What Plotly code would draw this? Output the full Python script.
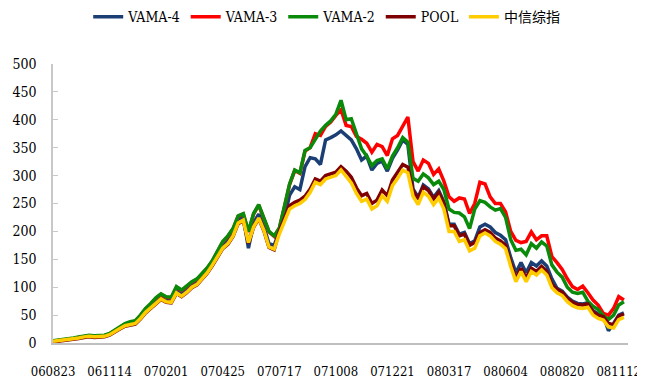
import plotly.graph_objects as go

# x positions are sample indices (roughly weekly); tick labels are the dates shown
tick_idx = [0, 11, 22, 33, 44, 55, 66, 77, 88, 99, 110]
tick_labels = ["060823", "061114", "070201", "070425", "070717", "071008",
               "071221", "080317", "080604", "080820", "081112"]

zx = [3,4,5,6,7,9,11,12,11,12,
      12,15,21,26,31,33,35,44,55,63,
      72,79,74,73,90,84,91,100,105,116,
      126,140,155,170,178,192,215,220,180,208,
      224,202,172,168,195,218,240,246,250,257,
      270,288,284,294,297,300,310,298,287,268,
      254,258,240,246,264,254,282,295,310,305,
      263,248,270,263,248,260,240,200,200,182,
      185,165,170,192,197,192,182,177,169,137,
      110,128,110,128,122,131,122,99,90,85,
      74,67,63,62,64,50,44,41,29,27,
      42,46]

pool = [2,3,4,5,6,8,10,11,10,11,
        11,14,20,25,30,32,34,43,54,62,
        71,78,73,72,89,83,90,99,104,115,
        125,139,154,169,177,191,214,219,179,207,
        223,201,171,167,200,224,246,252,256,263,
        276,294,290,300,303,306,316,308,297,278,
        264,268,250,256,274,264,292,305,320,315,
        273,258,280,273,258,270,250,210,210,192,
        195,175,180,198,203,198,188,183,175,143,
        116,134,116,134,128,137,128,105,96,91,
        80,73,69,68,70,56,50,47,35,33,
        48,52]

vama4 = [3,4,5,6,7,9,11,12,11,12,
         13,16,22,27,32,34,36,46,57,65,
         75,82,77,76,94,88,95,104,109,120,
         131,146,161,177,185,200,222,226,170,215,
         231,208,178,175,200,225,265,280,275,316,
         332,330,320,364,368,373,380,372,364,348,
         328,335,310,322,326,308,331,346,364,356,
         276,261,283,276,261,273,253,213,213,195,
         198,178,183,208,213,208,198,193,185,153,
         126,144,126,144,138,147,138,115,98,93,
         82,75,71,70,72,58,52,49,22,35,
         50,54]

vama2 = [4,5,6,8,9,11,13,14,13,14,
         14,17,23,29,35,38,40,50,62,71,
         81,88,83,82,101,95,103,110,115,124,
         135,148,165,182,192,205,228,232,200,232,
         248,225,200,192,206,245,285,310,305,345,
         350,365,380,390,398,410,435,400,402,375,
         348,335,318,327,330,312,335,350,368,360,
         295,290,303,296,284,290,275,240,234,233,
         226,205,240,255,252,244,238,241,225,185,
         166,168,158,178,170,181,174,140,127,118,
         100,91,89,91,75,66,60,49,42,50,
         68,74]

vama3 = [3,4,5,7,8,10,12,13,12,13,
         13,16,22,28,34,37,39,49,61,70,
         80,87,82,81,100,94,102,109,114,123,
         134,147,164,181,191,204,227,231,199,231,
         247,224,199,191,205,244,284,309,304,344,
         350,375,372,388,396,408,418,390,388,370,
         365,358,342,356,352,336,366,372,390,405,
         325,308,328,322,302,312,290,262,254,260,
         258,232,250,288,285,262,250,250,235,200,
         184,180,182,199,185,192,192,155,144,132,
         115,101,96,102,90,77,68,53,50,62,
         83,77]

x = list(range(len(zx)))

series = [
    ("VAMA-4", vama4, "#1B3F74"),
    ("VAMA-3", vama3, "#FF0000"),
    ("VAMA-2", vama2, "#0A8A0A"),
    ("POOL", pool, "#7F0000"),
    ("中信综指", zx, "#FFCC00"),
]

FONT = "DejaVu Serif Condensed, DejaVu Serif, Noto Sans CJK SC"

fig = go.Figure()
for name, vals, color in series:
    fig.add_trace(go.Scatter(x=x, y=vals, mode="lines", name=name,
                             line=dict(color=color, width=3.5)))

# the page body adds an 8px offset, so the figure is sized to fit inside the window
fig.update_layout(
    width=637, height=379,
    margin=dict(l=45, r=17, t=56, b=44, autoexpand=False),
    paper_bgcolor="white", plot_bgcolor="white",
    font=dict(family=FONT, size=16, color="#000000"),
    showlegend=True,
    legend=dict(orientation="h", x=0.476, xanchor="center", y=1.168, yanchor="middle",
                font=dict(family=FONT, size=14), itemwidth=30,
                bgcolor="rgba(0,0,0,0)"),
)
fig.update_xaxes(range=[0, 111.8], tickmode="array", tickvals=tick_idx, ticktext=tick_labels,
                 showline=True, linecolor="#BFBFBF", linewidth=1.5, showgrid=False,
                 zeroline=False, ticks="", ticklabelstandoff=16, ticklabeloverflow="allow",
                 tickfont=dict(family=FONT, size=13))
fig.update_yaxes(range=[0, 500], dtick=50, tick0=0, showline=True, linecolor="#C8C8C8",
                 linewidth=1.5, showgrid=False, zeroline=False, ticks="inside", ticklen=5,
                 tickcolor="#C8C8C8", ticklabelstandoff=12,
                 tickfont=dict(family=FONT, size=14))

fig.write_html("out.html")
